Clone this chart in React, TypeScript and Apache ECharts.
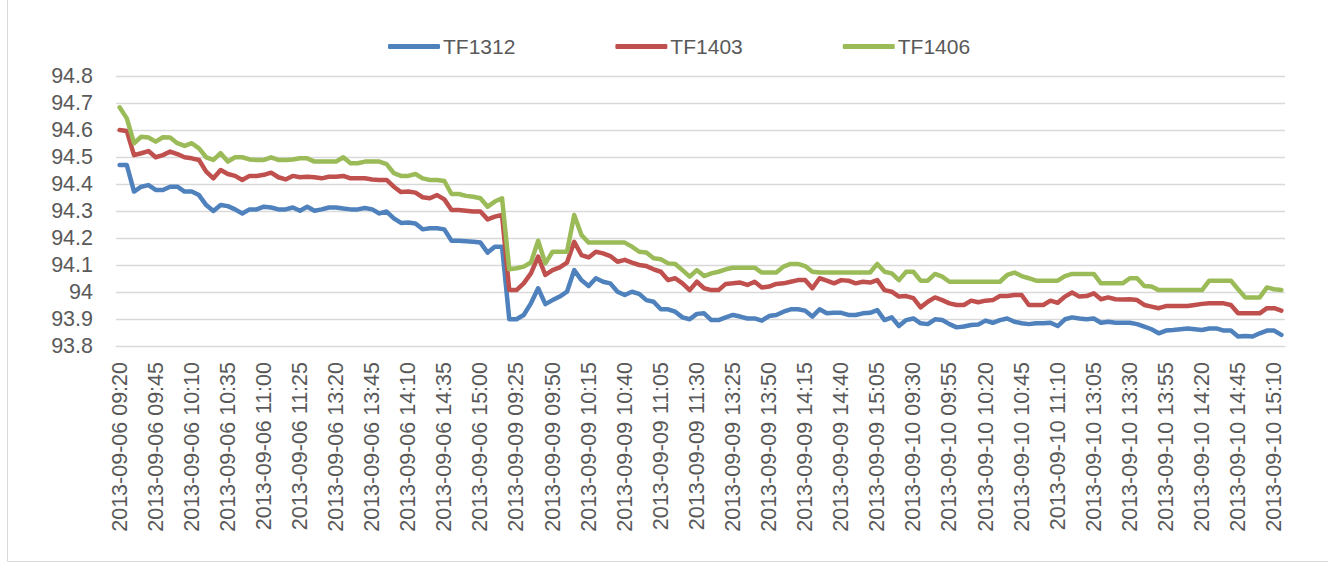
import React, { useEffect, useRef } from "react";
import * as echarts from "echarts";

const days = ["2013-09-06", "2013-09-09", "2013-09-10"];
const times = [
  "09:20", "09:25", "09:30", "09:35", "09:40", "09:45", "09:50", "09:55", "10:00", "10:05",
  "10:10", "10:15", "10:20", "10:25", "10:30", "10:35", "10:40", "10:45", "10:50", "10:55",
  "11:00", "11:05", "11:10", "11:15", "11:20", "11:25", "11:30",
  "13:05", "13:10", "13:15", "13:20", "13:25", "13:30", "13:35", "13:40", "13:45",
  "13:50", "13:55", "14:00", "14:05", "14:10", "14:15", "14:20", "14:25", "14:30",
  "14:35", "14:40", "14:45", "14:50", "14:55", "15:00", "15:05", "15:10", "15:15",
];
const categories = days.flatMap((d) => times.map((t) => `${d} ${t}`));

const seriesNames = ["TF1312", "TF1403", "TF1406"];
const seriesColors = ["#4F81BD", "#C0504D", "#9BBB59"];

const tf1312 = [
  94.47, 94.47, 94.372, 94.39, 94.396, 94.378, 94.378, 94.39, 94.39, 94.372,
  94.372, 94.359, 94.322, 94.3, 94.322, 94.318, 94.306, 94.291, 94.306, 94.306,
  94.316, 94.313, 94.306, 94.306, 94.313, 94.301, 94.316, 94.301, 94.306, 94.313,
  94.313, 94.309, 94.306, 94.306, 94.311, 94.306, 94.291, 94.298, 94.273, 94.256,
  94.257, 94.254, 94.232, 94.236, 94.236, 94.232, 94.19, 94.19, 94.188, 94.186,
  94.183, 94.146, 94.168, 94.168, 93.899, 93.899, 93.915, 93.958, 94.014, 93.955,
  93.97, 93.983, 94.001, 94.081, 94.044, 94.022, 94.051, 94.038, 94.032, 94.001,
  93.989, 94.001, 93.993, 93.97, 93.964, 93.936, 93.936, 93.927, 93.906, 93.899,
  93.919, 93.921, 93.896, 93.896, 93.906, 93.915, 93.909, 93.902, 93.902, 93.894,
  93.911, 93.915, 93.927, 93.936, 93.936, 93.931, 93.909, 93.936, 93.921, 93.923,
  93.923, 93.915, 93.915, 93.921, 93.923, 93.933, 93.896, 93.906, 93.874, 93.896,
  93.902, 93.884, 93.881, 93.899, 93.896, 93.881, 93.869, 93.872, 93.878, 93.88,
  93.894, 93.886, 93.896, 93.902, 93.89, 93.884, 93.881, 93.884, 93.884, 93.886,
  93.874, 93.899, 93.906, 93.902, 93.899, 93.902, 93.886, 93.89, 93.886, 93.886,
  93.886, 93.881, 93.872, 93.862, 93.847, 93.857, 93.859, 93.862, 93.865, 93.862,
  93.859, 93.865, 93.865, 93.857, 93.857, 93.835, 93.837, 93.835, 93.847, 93.857,
  93.857, 93.841,
];

const tf1403 = [
  94.6, 94.596, 94.507, 94.514, 94.522, 94.499, 94.507, 94.52, 94.511, 94.499,
  94.495, 94.489, 94.446, 94.421, 94.452, 94.437, 94.43, 94.415, 94.43, 94.43,
  94.434, 94.442, 94.425, 94.417, 94.43, 94.425, 94.427, 94.425, 94.421, 94.427,
  94.427, 94.43, 94.421, 94.421, 94.421, 94.417, 94.415, 94.415, 94.39, 94.37,
  94.372, 94.368, 94.351, 94.347, 94.359, 94.343, 94.304, 94.304, 94.301, 94.298,
  94.298, 94.269, 94.279, 94.285, 94.007, 94.007, 94.032, 94.069, 94.131, 94.063,
  94.081, 94.091, 94.109, 94.186, 94.137, 94.128, 94.149, 94.143, 94.133, 94.112,
  94.119, 94.109, 94.1, 94.096, 94.084, 94.075, 94.044, 94.051, 94.032, 94.007,
  94.038, 94.014, 94.007, 94.007, 94.03, 94.032, 94.035, 94.026, 94.038, 94.017,
  94.02, 94.03, 94.032, 94.038, 94.044, 94.044, 94.014, 94.051, 94.042, 94.032,
  94.044, 94.042, 94.032, 94.038, 94.035, 94.044, 94.007, 94.001, 93.983, 93.985,
  93.977, 93.943, 93.964, 93.98, 93.97, 93.958, 93.952, 93.952, 93.968, 93.962,
  93.968, 93.97, 93.985, 93.985, 93.989, 93.989, 93.952, 93.952, 93.952, 93.968,
  93.96, 93.983, 93.998, 93.983, 93.985, 93.995, 93.973, 93.98, 93.973, 93.972,
  93.973, 93.97, 93.952, 93.946, 93.94, 93.948, 93.948, 93.948, 93.948, 93.952,
  93.956, 93.958, 93.958, 93.958, 93.952, 93.921, 93.921, 93.921, 93.921, 93.94,
  93.94, 93.931,
];

const tf1406 = [
  94.684, 94.643, 94.551, 94.575, 94.572, 94.557, 94.573, 94.572, 94.551, 94.541,
  94.551, 94.532, 94.499, 94.489, 94.514, 94.483, 94.499, 94.499, 94.491, 94.489,
  94.489, 94.499, 94.489, 94.489, 94.491, 94.495, 94.495, 94.483, 94.483, 94.483,
  94.483, 94.499, 94.477, 94.477, 94.483, 94.483, 94.483, 94.474, 94.44, 94.43,
  94.43, 94.437, 94.421, 94.415, 94.415, 94.411, 94.363, 94.363, 94.356, 94.353,
  94.347, 94.316, 94.335, 94.347, 94.084, 94.088, 94.094, 94.109, 94.19, 94.106,
  94.149, 94.149, 94.149, 94.285, 94.211, 94.183, 94.183, 94.183, 94.183, 94.183,
  94.183, 94.168, 94.149, 94.146, 94.125, 94.121, 94.106, 94.104, 94.081, 94.057,
  94.081, 94.059, 94.069, 94.075, 94.084, 94.09, 94.09, 94.09, 94.09, 94.072,
  94.072, 94.072, 94.094, 94.104, 94.104, 94.096, 94.075, 94.072, 94.072, 94.072,
  94.072, 94.072, 94.072, 94.072, 94.072, 94.104, 94.075, 94.069, 94.044, 94.075,
  94.075, 94.042, 94.042, 94.067, 94.057, 94.038, 94.038, 94.038, 94.038, 94.038,
  94.038, 94.038, 94.038, 94.063, 94.072, 94.059, 94.051, 94.042, 94.042, 94.042,
  94.042, 94.059, 94.067, 94.067, 94.067, 94.067, 94.032, 94.032, 94.032, 94.032,
  94.051, 94.051, 94.022, 94.02, 94.007, 94.007, 94.007, 94.007, 94.007, 94.007,
  94.007, 94.042, 94.042, 94.042, 94.042, 94.01, 93.98, 93.98, 93.98, 94.017,
  94.01, 94.007,
];

const seriesData = [tf1312, tf1403, tf1406];

const FONT = "'Liberation Sans', Arial, sans-serif";
const TEXT_COLOR = "#595959";

export default function App() {
  const ref = useRef<HTMLDivElement>(null);

  useEffect(() => {
    if (!ref.current) return;
    const chart = echarts.init(ref.current, undefined, { renderer: "svg" });
    chart.setOption({
      animation: false,
      backgroundColor: "#ffffff",
      textStyle: { fontFamily: FONT },
      graphic: [
        {
          type: "rect",
          silent: true,
          shape: { x: 7.5, y: -5, width: 1340, height: 566.5 },
          style: { fill: "none", stroke: "#D9D9D9", lineWidth: 1 },
          z: -10,
        },
      ],
      legend: {
        data: seriesNames,
        left: 383,
        top: 31,
        icon: "roundRect",
        itemWidth: 52,
        itemHeight: 5,
        itemGap: 100,
        textStyle: { fontSize: 21, color: TEXT_COLOR, fontFamily: FONT, padding: [0, 0, 0, -2] },
      },
      grid: { left: 116, right: 43, top: 76, bottom: 220, containLabel: false },
      xAxis: {
        type: "category",
        data: categories,
        boundaryGap: true,
        axisLine: { show: true, lineStyle: { color: "#D9D9D9", width: 1 } },
        axisTick: { show: false },
        axisLabel: {
          interval: 4,
          rotate: 90,
          fontSize: 21.5,
          color: TEXT_COLOR,
          fontFamily: FONT,
          margin: 16,
        },
        splitLine: { show: false },
      },
      yAxis: {
        type: "value",
        min: 93.8,
        max: 94.8,
        interval: 0.1,
        axisLine: { show: false },
        axisTick: { show: false },
        axisLabel: {
          fontSize: 21.5,
          color: TEXT_COLOR,
          fontFamily: FONT,
          margin: 23,
          formatter: (v: number) => String(Math.round(v * 10) / 10),
        },
        splitLine: { show: true, lineStyle: { color: "#D9D9D9", width: 1.3 } },
      },
      series: seriesNames.map((name, k) => ({
        name,
        type: "line",
        data: seriesData[k],
        showSymbol: false,
        symbol: "none",
        smooth: false,
        color: seriesColors[k],
        lineStyle: { width: 4.5, color: seriesColors[k], cap: "round", join: "round" },
        itemStyle: { color: seriesColors[k] },
      })),
    });
    return () => chart.dispose();
  }, []);

  return (
    <div
      ref={ref}
      style={{ position: "fixed", left: 0, top: 0, width: 1328, height: 566, background: "#fff" }}
    />
  );
}
